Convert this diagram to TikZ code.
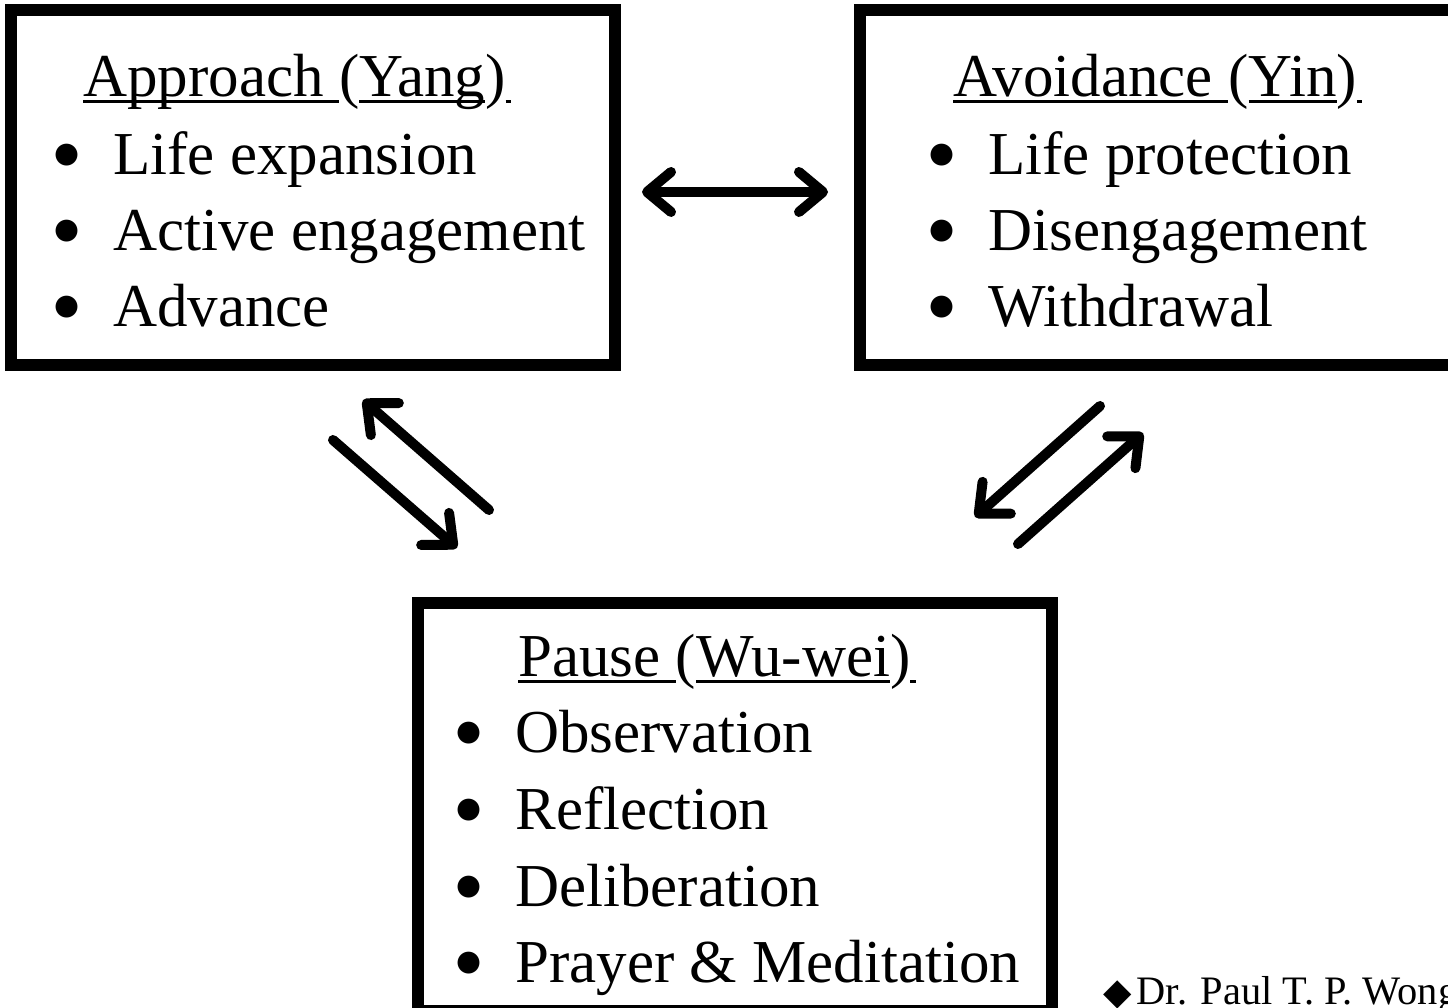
\documentclass[tikz,border=0pt]{standalone}
\usepackage{fontspec}
\setmainfont{Liberation Serif}
\newfontfamily\symfont{DejaVu Sans}
\usetikzlibrary{arrows.meta}
\newcommand{\ulpart}[1]{\setbox0\hbox{#1}\rlap{\rule[-3.4pt]{\wd0}{1.7pt}}\box0}
\newcommand{\itembul}{\llap{\raisebox{7.1pt}{\symfont\fontsize{16.3pt}{18pt}\selectfont ●}\hspace{0.67cm}}}
\tikzset{
  box/.style={draw, line width=0.24cm, inner sep=0pt},
  txt/.style={inner sep=0pt, anchor=base west, font=\fontsize{34.7pt}{42pt}\selectfont},
  credit/.style={inner sep=0pt, anchor=base west, font=\fontsize{23pt}{27pt}\selectfont},
  arr/.style={line width=0.2cm, line cap=round, -{Straight Barb[length=0.48cm, width=0.85cm, round]}},
  harr/.style={line width=0.2cm, {Straight Barb[length=0.48cm, width=0.8cm, round]}-{Straight Barb[length=0.48cm, width=0.8cm, round]}}
}
\begin{document}
\begin{tikzpicture}
\useasboundingbox (0,0) rectangle (28.96,20.16);
\clip (0,0) rectangle (28.96,20.16);
% boxes
\node[box, minimum width=12.07cm, minimum height=7.11cm] (yang) at (6.255,16.405) {};
\node[box, minimum width=12.21cm, minimum height=7.11cm] (yin) at (23.295,16.405) {};
\node[box, minimum width=12.68cm, minimum height=8.16cm] (wuwei) at (14.69,4.02) {};
% approach
\node[txt] (yangt) at (1.66,18.22) {\ulpart{Approach\ }(\ulpart{Yang})\ulpart{\kern3pt}};
\node[txt] (yang1) at (2.26,16.66) {\itembul Life expansion};
\node[txt] (yang2) at (2.26,15.14) {\itembul Active engagement};
\node[txt] (yang3) at (2.26,13.62) {\itembul Advance};
% avoidance
\node[txt] (yint) at (19.06,18.22) {\ulpart{Avoidance\ }(\ulpart{Yin})\ulpart{\kern3pt}};
\node[txt] (yin1) at (19.76,16.66) {\itembul Life protection};
\node[txt] (yin2) at (19.76,15.14) {\itembul Disengagement};
\node[txt] (yin3) at (19.76,13.62) {\itembul Withdrawal};
% pause
\node[txt] (wuweit) at (10.36,6.62) {\ulpart{Pause\ }(\ulpart{Wu-wei})\ulpart{\kern3pt}};
\node[txt] (wuwei1) at (10.3,5.1) {\itembul Observation};
\node[txt] (wuwei2) at (10.3,3.56) {\itembul Reflection};
\node[txt] (wuwei3) at (10.3,2.02) {\itembul Deliberation};
\node[txt] (wuwei4) at (10.3,0.5) {\itembul Prayer \& Meditation};
\node[credit] (wong) at (22.06,0.06) {{\symfont\fontsize{21pt}{25pt}\selectfont ◆}\hspace{0.1cm}Dr. Paul T. P. Wong};
% arrow ends
\coordinate (h1) at (12.84,16.32);
\coordinate (h2) at (16.56,16.32);
\coordinate (a1) at (9.78,9.96);
\coordinate (a2) at (7.26,12.16);
\coordinate (b1) at (6.66,11.36);
\coordinate (b2) at (9.14,9.2);
\coordinate (c1) at (22.0,12.04);
\coordinate (c2) at (19.5,9.82);
\coordinate (d1) at (20.36,9.28);
\coordinate (d2) at (22.86,11.5);
\draw[harr] (h1) -- (h2);
\draw[arr] (a1) -- (a2);
\draw[arr] (b1) -- (b2);
\draw[arr] (c1) -- (c2);
\draw[arr] (d1) -- (d2);
\end{tikzpicture}
\end{document}
